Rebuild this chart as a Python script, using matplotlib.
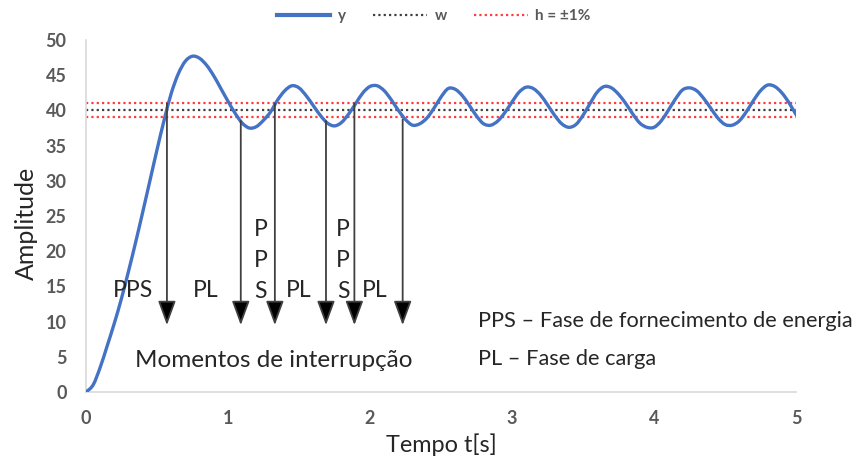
import matplotlib
matplotlib.use("Agg")
import matplotlib.pyplot as plt
from matplotlib.patches import FancyArrowPatch, PathPatch
from matplotlib.path import Path
from matplotlib.lines import Line2D

plt.rcParams['font.family'] = ['Lato', 'DejaVu Sans']

# ---- data ----
t = [0.00, 0.05, 0.10, 0.15, 0.20, 0.25, 0.30, 0.35, 0.40, 0.45,
     0.50, 0.55, 0.60, 0.65, 0.70, 0.75, 0.80, 0.85, 0.90, 0.95,
     1.00, 1.05, 1.10, 1.15, 1.20, 1.25, 1.30, 1.35, 1.40, 1.45,
     1.50, 1.55, 1.60, 1.65, 1.70, 1.75, 1.80, 1.85, 1.90, 1.95,
     2.00, 2.05, 2.10, 2.15, 2.20, 2.25, 2.30, 2.35, 2.40, 2.45,
     2.50, 2.55, 2.60, 2.65, 2.70, 2.75, 2.80, 2.85, 2.90, 2.95,
     3.00, 3.05, 3.10, 3.15, 3.20, 3.25, 3.30, 3.35, 3.40, 3.45,
     3.50, 3.55, 3.60, 3.65, 3.70, 3.75, 3.80, 3.85, 3.90, 3.95,
     4.00, 4.05, 4.10, 4.15, 4.20, 4.25, 4.30, 4.35, 4.40, 4.45,
     4.50, 4.55, 4.60, 4.65, 4.70, 4.75, 4.80, 4.85, 4.90, 4.95,
     5.00]
y = [0.0, 1.0, 3.5, 6.6, 9.8, 13.3, 17.2, 21.3, 25.6, 30.0,
     34.4, 38.6, 42.4, 45.2, 47.0, 47.7, 47.4, 46.4, 44.9, 43.1,
     41.3, 39.6, 38.2, 37.5, 37.7, 38.6, 39.8, 41.5, 42.8, 43.5,
     43.2, 42.1, 40.7, 39.3, 38.2, 37.8, 38.3, 39.5, 41.0, 42.5,
     43.4, 43.5, 42.8, 41.5, 40.0, 38.7, 37.9, 38.1, 38.9, 40.3,
     41.9, 43.1, 43.0, 42.1, 40.7, 39.2, 38.1, 37.9, 38.5, 39.7,
     41.2, 42.6, 43.3, 43.1, 42.2, 40.8, 39.3, 38.1, 37.6, 38.0,
     39.3, 41.0, 42.6, 43.4, 43.2, 42.3, 41.0, 39.5, 38.2, 37.6,
     37.6, 38.5, 40.0, 41.6, 42.9, 43.2, 42.8, 41.7, 40.3, 38.9,
     38.0, 37.9, 38.5, 39.8, 41.4, 42.8, 43.6, 43.4, 42.5, 41.1,
     39.4]
w_level = 40
h_upper = 41
h_lower = 39

arrow_x = [0.57, 1.09, 1.33, 1.69, 1.89, 2.23]
arrow_top = [41.0, 38.5, 41.0, 38.5, 41.0, 38.7]
arrow_tip = 9.5

phase_labels = ["PPS", "PL", "P\nP\nS", "PL", "P\nP\nS", "PL"]
phase_x = [0.33, 0.84, 1.23, 1.50, 1.81, 2.03]

x_ticks = [0, 1, 2, 3, 4, 5]
y_ticks = [0, 5, 10, 15, 20, 25, 30, 35, 40, 45, 50]

BLUE = '#4472C4'
TXT = '#262626'

# ---- figure ----
fig = plt.figure(figsize=(8.59, 4.63), dpi=100)
ax = fig.add_axes([0.1001, 0.1533, 0.8266, 0.7603])

dot = (0, (1, 1.4))
ax.plot([0, 5], [h_upper, h_upper], color='#ff3b3b', lw=1.6, ls=dot, zorder=2)
ax.plot([0, 5], [h_lower, h_lower], color='#ff3b3b', lw=1.6, ls=dot, zorder=2)
ax.plot([0, 5], [w_level, w_level], color='#404040', lw=1.6, ls=dot, zorder=2)

# smoothed line (Catmull-Rom rendering of the data points, like a smoothed spreadsheet line)
verts = [(t[0], y[0])]
codes = [Path.MOVETO]
n = len(t)
for i in range(n - 1):
    p0 = (t[max(i - 1, 0)], y[max(i - 1, 0)])
    p1 = (t[i], y[i])
    p2 = (t[i + 1], y[i + 1])
    p3 = (t[min(i + 2, n - 1)], y[min(i + 2, n - 1)])
    c1 = (p1[0] + (p2[0] - p0[0]) / 6.0, p1[1] + (p2[1] - p0[1]) / 6.0)
    c2 = (p2[0] - (p3[0] - p1[0]) / 6.0, p2[1] - (p3[1] - p1[1]) / 6.0)
    verts += [c1, c2, p2]
    codes += [Path.CURVE4, Path.CURVE4, Path.CURVE4]
curve = PathPatch(Path(verts, codes), facecolor='none', edgecolor=BLUE, lw=2.4,
                  capstyle='round', joinstyle='round', zorder=3)
ax.add_patch(curve)

for xa, top in zip(arrow_x, arrow_top):
    arr = FancyArrowPatch((xa, top), (xa, arrow_tip),
                          arrowstyle='-|>,head_length=15,head_width=5.5',
                          mutation_scale=1, lw=1.3,
                          shrinkA=0, shrinkB=0, zorder=4)
    arr.set_edgecolor('#404040')
    arr.set_facecolor('black')
    ax.add_patch(arr)

FS_PH = 16.5
for lab, xp in zip(phase_labels, phase_x):
    if '\n' in lab:
        ax.text(xp, 12.8, lab, ha='center', va='bottom', fontsize=FS_PH,
                color=TXT, linespacing=1.58)
    else:
        ax.text(xp, 14.4, lab, ha='center', va='center', fontsize=FS_PH, color=TXT)

ax.text(0.345, 4.5, "Momentos de interrupção", ha='left', va='center', fontsize=17.5, color=TXT)
ax.text(2.76, 10.1, "PPS – Fase de fornecimento de energia", ha='left', va='center', fontsize=15.7, color=TXT)
ax.text(2.76, 4.7, "PL – Fase de carga", ha='left', va='center', fontsize=15.7, color=TXT)

ax.set_xlim(0, 5)
ax.set_ylim(0, 50)
ax.set_xticks(x_ticks)
ax.set_yticks(y_ticks)
ax.tick_params(length=0, labelsize=13, labelcolor='#595959')
for lab in ax.get_xticklabels() + ax.get_yticklabels():
    lab.set_fontweight('bold')
ax.tick_params(axis='x', pad=13)
ax.tick_params(axis='y', pad=14)

for s in ['top', 'right']:
    ax.spines[s].set_visible(False)
for s in ['left', 'bottom']:
    ax.spines[s].set_color('#d9d9d9')
    ax.spines[s].set_linewidth(1.2)

ax.set_xlabel("Tempo t[s]", fontsize=16.9, color=TXT)
ax.xaxis.set_label_coords(0.5, -0.118)
ax.set_ylabel("Amplitude", fontsize=18, color=TXT)
ax.yaxis.set_label_coords(-0.067, 0.48)

handles = [Line2D([], [], color=BLUE, lw=3),
           Line2D([], [], color='#404040', lw=1.6, ls=dot),
           Line2D([], [], color='#ff3b3b', lw=1.6, ls=dot)]
labels = ['y', 'w', 'h = ±1%']
leg = fig.legend(handles, labels,
                 loc='upper center', bbox_to_anchor=(0.505, 1.01), ncol=3,
                 frameon=False, fontsize=11, handlelength=3.5, columnspacing=1.8,
                 handletextpad=0.5)
for txt in leg.get_texts():
    txt.set_color('#595959')
    txt.set_fontweight('bold')

fig.savefig('out.png', dpi=100)
